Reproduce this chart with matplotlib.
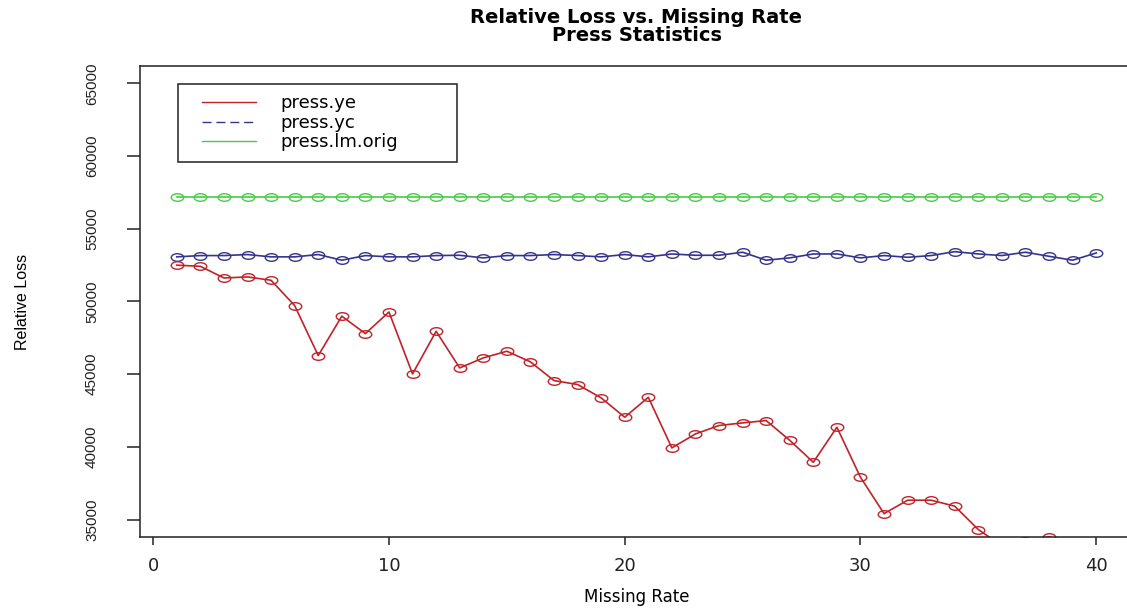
import matplotlib.pyplot as plt
from matplotlib.lines import Line2D
from matplotlib.legend_handler import HandlerLine2D
from matplotlib.path import Path
from matplotlib.transforms import Affine2D

# Press statistics per missing rate
missing_rate = list(range(1, 41))

press_ye = [52500, 52420, 51620, 51690, 51460, 49720, 46280, 48990, 47790, 49280,
            45020, 47950, 45430, 46120, 46580, 45850, 44560, 44290, 43370, 42040,
            43410, 39930, 40890, 41470, 41650, 41810, 40450, 38940, 41350, 37910,
            35410, 36330, 36330, 35920, 34310, 33200, 33500, 33810, 33300, 33000]

press_yc = [53070, 53160, 53160, 53230, 53070, 53070, 53230, 52840, 53160, 53070,
            53070, 53160, 53180, 53000, 53160, 53160, 53230, 53160, 53070, 53230,
            53070, 53270, 53180, 53180, 53390, 52840, 53000, 53270, 53270, 53000,
            53160, 53040, 53160, 53430, 53270, 53160, 53390, 53110, 52840, 53340]

press_lm_orig = [57170] * 40

red = "#c02228"
blue = "#34348c"
green = "#46cc46"

# open ellipse marker
ellipse = Path.unit_circle().transformed(Affine2D().scale(1.65, 1.0))

fig = plt.figure(figsize=(11.27, 6.12), dpi=100)
ax = fig.add_axes([140 / 1127, 75 / 612, 993 / 1127, 471 / 612])

style = dict(marker=ellipse, markersize=9, markerfacecolor="none",
             markeredgewidth=1.0, linewidth=1.2)
ax.plot(missing_rate, press_lm_orig, color=green, **style)
ax.plot(missing_rate, press_yc, color=blue, **style)
ax.plot(missing_rate, press_ye, color=red, **style)

ax.set_xlim(-0.56, 41.56)
ax.set_ylim(33800, 66200)
ax.set_xticks([0, 10, 20, 30, 40])
ax.set_yticks([35000, 40000, 45000, 50000, 55000, 60000, 65000])

for s in ax.spines.values():
    s.set_color("#222222")
    s.set_linewidth(1.1)
ax.spines["right"].set_visible(False)

ax.tick_params(axis="x", direction="out", length=5.5, width=1.1, pad=9,
               labelsize=13, colors="#222222")
ax.tick_params(axis="y", direction="out", length=9.5, width=1.1, pad=20,
               labelsize=11, colors="#222222")
for lab in ax.get_xticklabels():
    lab.set_family("DejaVu Sans")
for lab in ax.get_yticklabels():
    lab.set_family("Liberation Sans")
    lab.set_rotation(90)
    lab.set_va("center")

ax.set_xlabel("Missing Rate", fontsize=12, family="DejaVu Sans", va="center")
ax.xaxis.set_label_coords(0.5, -0.127)
ax.set_ylabel("Relative Loss", fontsize=11.5, family="Liberation Sans", va="center")
ax.yaxis.set_label_coords(-0.118, 0.5)

fig.text(636.5 / 1127, 1 - 26.5 / 612,
         "Relative Loss vs. Missing Rate\nPress Statistics",
         ha="center", va="center", fontsize=14, fontweight="bold",
         family="DejaVu Sans", linespacing=0.9)

handles = [Line2D([], [], color=red, linewidth=1.0),
           Line2D([], [], color=blue, linewidth=1.0, linestyle=(0, (6.5, 3.5))),
           Line2D([], [], color=green, linewidth=1.0)]
labels = ["press.ye", "press.yc", "press.lm.orig"]
x0 = (178 - 140) / 993
y1 = (537 - 84) / 471
leg = ax.legend(handles, labels, loc="upper left", mode="expand",
                bbox_to_anchor=(x0, y1 - 0.2, (457 - 178) / 993, 0.2),
                borderaxespad=0, fancybox=False, framealpha=1,
                edgecolor="#222222", prop={"family": "DejaVu Sans", "size": 13},
                handlelength=3.75, handletextpad=1.33, labelspacing=0.08,
                borderpad=0.58,
                handler_map={Line2D: HandlerLine2D(xpad=0.75)})
leg.get_frame().set_linewidth(1.1)

fig.savefig("out.png", dpi=100)
